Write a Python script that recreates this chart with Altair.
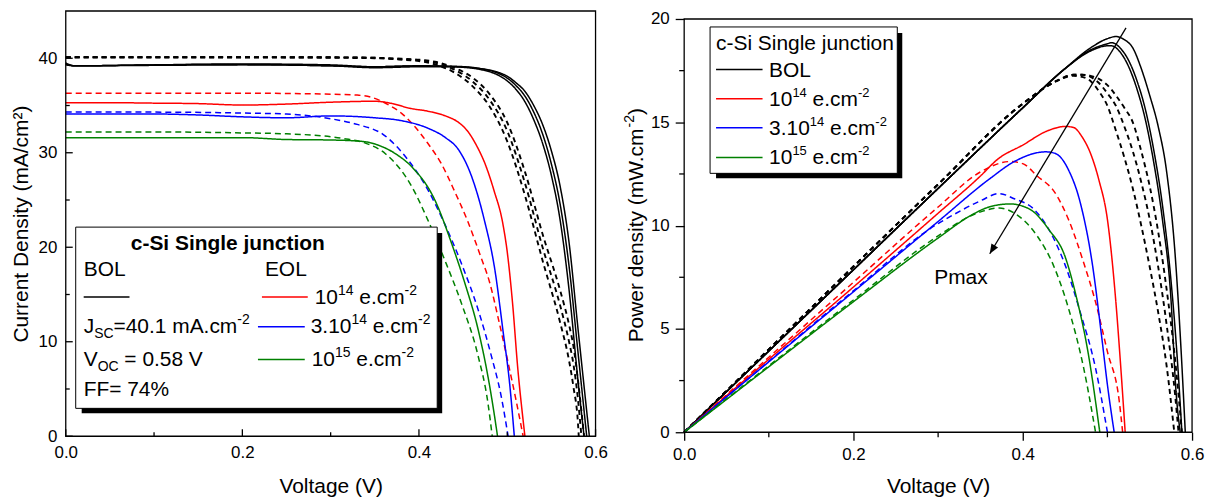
import altair as alt
import pandas as pd

FONT = "Liberation Sans"

# ---------------- Left panel: J-V curves (V in volts, J in mA/cm2) ----------------
jv_bol_a_v = [0, 0.01, 0.1, 0.2, 0.3, 0.35, 0.4, 0.44, 0.47, 0.49, 0.50, 0.51, 0.52, 0.53, 0.54, 0.55, 0.56, 0.57, 0.58, 0.587]
jv_bol_a_j = [39.5, 39.2, 39.3, 39.4, 39.3, 39.1, 39.2, 39.1, 38.8, 38.2, 37.6, 36.7, 35.4, 33.5, 31.0, 27.6, 22.8, 15.5, 6.0, 0]
jv_bol_b_v = [0, 0.01, 0.1, 0.2, 0.3, 0.35, 0.4, 0.44, 0.47, 0.49, 0.50, 0.51, 0.52, 0.53, 0.54, 0.55, 0.56, 0.57, 0.58, 0.590]
jv_bol_b_j = [39.4, 39.2, 39.3, 39.35, 39.2, 39.1, 39.2, 39.15, 38.9, 38.4, 37.9, 37.1, 36.0, 34.3, 32.0, 28.8, 24.5, 18.0, 9.0, 0]
jv_bol_c_v = [0, 0.01, 0.1, 0.2, 0.3, 0.35, 0.4, 0.44, 0.47, 0.49, 0.50, 0.51, 0.52, 0.53, 0.54, 0.55, 0.56, 0.57, 0.58, 0.593]
jv_bol_c_j = [39.3, 39.2, 39.25, 39.3, 39.2, 39.0, 39.1, 39.1, 38.9, 38.5, 38.1, 37.4, 36.5, 35.0, 33.0, 30.2, 26.4, 20.5, 11.5, 0]

jv_bold_v = [0, 0.1, 0.2, 0.3, 0.35, 0.38, 0.40, 0.42, 0.44, 0.46, 0.48, 0.50, 0.52, 0.54, 0.56, 0.57, 0.575, 0.58, 0.584]
jv_bold1_j = [40.1, 40.1, 40.1, 40.1, 40.05, 39.9, 39.8, 39.5, 38.8, 37.6, 35.6, 32.3, 26.8, 20.0, 13.8, 10.0, 7.6, 4.0, 0]
jv_bold2_v = [0, 0.1, 0.2, 0.3, 0.35, 0.38, 0.40, 0.42, 0.44, 0.46, 0.48, 0.50, 0.52, 0.54, 0.56, 0.57, 0.575, 0.58, 0.581]
jv_bold2_j = [40.1, 40.1, 40.1, 40.05, 40.0, 39.85, 39.7, 39.3, 38.5, 37.1, 34.9, 31.2, 25.5, 18.6, 12.0, 8.0, 5.2, 1.5, 0]
jv_bold3_v = [0, 0.1, 0.2, 0.3, 0.35, 0.38, 0.40, 0.42, 0.44, 0.46, 0.48, 0.50, 0.52, 0.54, 0.56, 0.57, 0.575, 0.58, 0.587]
jv_bold3_j = [40.1, 40.1, 40.1, 40.1, 40.05, 39.95, 39.85, 39.6, 39.0, 38.0, 36.2, 33.2, 28.0, 21.4, 15.4, 11.8, 9.5, 6.0, 0]

jv_red_v = [0, 0.05, 0.1, 0.15, 0.2, 0.25, 0.3, 0.35, 0.37, 0.39, 0.41, 0.43, 0.445, 0.455, 0.465, 0.475, 0.485, 0.495, 0.50, 0.506, 0.512, 0.517, 0.52]
jv_red_j = [35.3, 35.3, 35.25, 35.2, 35.05, 35.15, 35.35, 35.45, 35.2, 34.7, 34.4, 33.9, 33.2, 32.3, 30.8, 28.8, 26.0, 22.5, 19.5, 14.1, 7.1, 2.5, 0]
jv_redd_v = [0, 0.1, 0.2, 0.3, 0.33, 0.345, 0.365, 0.38, 0.395, 0.41, 0.425, 0.44, 0.455, 0.47, 0.48, 0.49, 0.50, 0.51, 0.518]
jv_redd_j = [36.3, 36.3, 36.3, 36.2, 36.1, 35.9, 35.1, 34.2, 32.8, 31.0, 28.9, 26.0, 22.8, 19.0, 16.3, 12.4, 8.2, 3.8, 0]

jv_blue_v = [0, 0.1, 0.15, 0.2, 0.25, 0.3, 0.35, 0.38, 0.41, 0.43, 0.445, 0.46, 0.474, 0.486, 0.495, 0.503, 0.508]
jv_blue_j = [34.1, 34.1, 34.0, 33.8, 33.7, 33.9, 33.7, 33.4, 32.6, 31.6, 30.3, 27.4, 22.9, 17.6, 11.3, 5.3, 0]
jv_blued_v = [0, 0.1, 0.2, 0.25, 0.3, 0.33, 0.36, 0.388, 0.41, 0.429, 0.448, 0.467, 0.482, 0.493, 0.501]
jv_blued_j = [34.3, 34.3, 34.2, 34.1, 33.6, 33.0, 31.9, 29.2, 26.1, 22.5, 18.3, 13.4, 8.5, 4.3, 0]

jv_green_v = [0, 0.1, 0.2, 0.25, 0.3, 0.336, 0.354, 0.375, 0.392, 0.418, 0.437, 0.452, 0.467, 0.478, 0.485, 0.489]
jv_green_j = [31.6, 31.6, 31.6, 31.4, 31.35, 31.2, 30.8, 29.8, 28.5, 25.0, 20.4, 16.2, 11.3, 6.4, 2.5, 0]
jv_greend_v = [0, 0.1, 0.2, 0.25, 0.3, 0.315, 0.34, 0.362, 0.392, 0.41, 0.429, 0.448, 0.467, 0.478, 0.483]
jv_greend_j = [32.2, 32.2, 32.1, 32.0, 31.7, 31.5, 31.0, 29.9, 26.4, 22.9, 18.7, 14.1, 8.5, 3.6, 0]

# ---------------- Right panel: P-V curves (P in mW/cm2) ----------------
pv_bol_a_v = [0, 0.1, 0.2, 0.3, 0.4, 0.45, 0.48, 0.50, 0.51, 0.52, 0.53, 0.54, 0.55, 0.56, 0.57, 0.58, 0.587, 0.592]
pv_bol_a_p = [0, 3.93, 7.87, 11.8, 15.7, 17.6, 18.6, 19.05, 19.15, 19.0, 18.6, 17.6, 16.3, 14.8, 12.6, 8.6, 4.0, 0]
pv_bol_b_v = [0, 0.1, 0.2, 0.3, 0.4, 0.45, 0.48, 0.50, 0.505, 0.515, 0.525, 0.535, 0.545, 0.555, 0.565, 0.575, 0.583, 0.588]
pv_bol_b_p = [0, 3.93, 7.86, 11.8, 15.7, 17.6, 18.5, 18.8, 18.85, 18.6, 18.0, 17.0, 15.6, 13.6, 11.0, 7.4, 3.3, 0]
pv_bol_c_v = [0, 0.1, 0.2, 0.3, 0.4, 0.45, 0.48, 0.50, 0.505, 0.515, 0.525, 0.535, 0.545, 0.555, 0.565, 0.575, 0.581, 0.586]
pv_bol_c_p = [0, 3.93, 7.86, 11.8, 15.7, 17.6, 18.45, 18.7, 18.7, 18.4, 17.7, 16.6, 15.1, 13.0, 10.3, 6.5, 2.0, 0]

pv_bold1_v = [0, 0.1, 0.2, 0.3, 0.4, 0.44, 0.46, 0.47, 0.48, 0.49, 0.50, 0.51, 0.52, 0.53, 0.54, 0.55, 0.56, 0.57, 0.58, 0.584]
pv_bold1_p = [0, 4.01, 8.02, 12.0, 15.9, 17.0, 17.3, 17.3, 17.2, 16.9, 16.4, 15.8, 14.8, 13.6, 12.1, 10.3, 8.0, 5.2, 1.8, 0]
pv_bold2_v = [0, 0.1, 0.2, 0.3, 0.4, 0.44, 0.46, 0.47, 0.48, 0.49, 0.50, 0.51, 0.52, 0.53, 0.54, 0.55, 0.56, 0.57, 0.579]
pv_bold2_p = [0, 4.01, 8.02, 12.0, 15.9, 17.0, 17.25, 17.2, 17.0, 16.5, 15.8, 14.6, 13.3, 11.8, 10.0, 8.0, 5.8, 3.2, 0]
pv_bold3_v = [0, 0.1, 0.2, 0.3, 0.4, 0.44, 0.46, 0.47, 0.48, 0.49, 0.50, 0.51, 0.52, 0.53, 0.54, 0.55, 0.56, 0.57, 0.58, 0.588]
pv_bold3_p = [0, 4.01, 8.02, 12.0, 15.9, 17.0, 17.3, 17.3, 17.25, 17.1, 16.8, 16.3, 15.7, 15.0, 13.6, 11.9, 9.7, 6.9, 3.5, 0]

pv_red_v = [0, 0.1, 0.2, 0.3, 0.35, 0.37, 0.40, 0.43, 0.45, 0.46, 0.47, 0.48, 0.49, 0.50, 0.51, 0.515, 0.521]
pv_red_p = [0, 3.53, 7.03, 10.6, 12.4, 13.2, 13.9, 14.6, 14.8, 14.75, 14.3, 13.5, 12.2, 10.3, 6.3, 3.6, 0]
pv_redd_v = [0, 0.1, 0.2, 0.3, 0.35, 0.385, 0.40, 0.417, 0.438, 0.454, 0.472, 0.486, 0.50, 0.514, 0.518]
pv_redd_p = [0, 3.63, 7.26, 10.9, 12.6, 13.1, 13.0, 12.4, 11.6, 10.3, 8.2, 6.3, 3.9, 1.5, 0]

pv_blue_v = [0, 0.1, 0.2, 0.3, 0.362, 0.39, 0.427, 0.438, 0.454, 0.468, 0.482, 0.493, 0.50, 0.508]
pv_blue_p = [0, 3.41, 6.8, 10.2, 12.3, 13.1, 13.57, 13.5, 12.7, 11.1, 8.2, 4.7, 2.3, 0]
pv_blued_v = [0, 0.1, 0.2, 0.3, 0.317, 0.35, 0.372, 0.39, 0.413, 0.431, 0.45, 0.468, 0.486, 0.50]
pv_blued_p = [0, 3.43, 6.85, 10.1, 10.5, 11.2, 11.55, 11.3, 10.8, 9.8, 8.1, 5.8, 3.1, 0]

pv_green_v = [0, 0.1, 0.2, 0.3, 0.339, 0.36, 0.385, 0.408, 0.431, 0.45, 0.463, 0.477, 0.491]
pv_green_p = [0, 3.17, 6.32, 9.4, 10.5, 10.9, 11.05, 10.8, 9.8, 8.5, 6.6, 3.9, 0]
pv_greend_v = [0, 0.1, 0.2, 0.3, 0.34, 0.372, 0.394, 0.417, 0.436, 0.454, 0.472, 0.486]
pv_greend_p = [0, 3.22, 6.4, 9.5, 10.5, 10.85, 10.5, 9.5, 8.1, 6.0, 3.1, 0]

# Pmax arrow (voltage, power) and label
arrow_v = [0.522, 0.361]
arrow_p = [19.57, 8.64]
pmax_label_v = [0.327]
pmax_label_p = [7.44]

# axis ticks
x_major = [0, 0.2, 0.4, 0.6]
x_minor = [0.1, 0.3, 0.5]
jl_major = [0, 10, 20, 30, 40]
jl_minor = [5, 15, 25, 35]
pr_major = [0, 5, 10, 15, 20]
pr_minor = [2.5, 7.5, 12.5, 17.5]

RED, BLUE, GREEN, BLACK = "#FF0000", "#0000FF", "#008000", "#000000"

left_series = [
    ("bol_a", jv_bol_a_v, jv_bol_a_j, BLACK, "s"),
    ("bol_b", jv_bol_b_v, jv_bol_b_j, BLACK, "s"),
    ("bol_c", jv_bol_c_v, jv_bol_c_j, BLACK, "s"),
    ("bold1", jv_bold_v, jv_bold1_j, BLACK, "b"),
    ("bold2", jv_bold2_v, jv_bold2_j, BLACK, "b"),
    ("bold3", jv_bold3_v, jv_bold3_j, BLACK, "b"),
    ("redd", jv_redd_v, jv_redd_j, RED, "d"),
    ("red", jv_red_v, jv_red_j, RED, "s"),
    ("blued", jv_blued_v, jv_blued_j, BLUE, "d"),
    ("blue", jv_blue_v, jv_blue_j, BLUE, "s"),
    ("greend", jv_greend_v, jv_greend_j, GREEN, "d"),
    ("green", jv_green_v, jv_green_j, GREEN, "s"),
]
right_series = [
    ("bold1", pv_bold1_v, pv_bold1_p, BLACK, "b"),
    ("bold2", pv_bold2_v, pv_bold2_p, BLACK, "b"),
    ("bold3", pv_bold3_v, pv_bold3_p, BLACK, "b"),
    ("bol_a", pv_bol_a_v, pv_bol_a_p, BLACK, "s"),
    ("bol_b", pv_bol_b_v, pv_bol_b_p, BLACK, "s"),
    ("bol_c", pv_bol_c_v, pv_bol_c_p, BLACK, "s"),
    ("redd", pv_redd_v, pv_redd_p, RED, "d"),
    ("red", pv_red_v, pv_red_p, RED, "s"),
    ("blued", pv_blued_v, pv_blued_p, BLUE, "d"),
    ("blue", pv_blue_v, pv_blue_p, BLUE, "s"),
    ("greend", pv_greend_v, pv_greend_p, GREEN, "d"),
    ("green", pv_green_v, pv_green_p, GREEN, "s"),
]


def long_df(series, ycol):
    rows = []
    for name, vs, ys, col, dash in series:
        for i, (v, y) in enumerate(zip(vs, ys)):
            rows.append({"name": name, "i": i, "V": v, ycol: y, "color": col,
                         "dash": dash, "sw": 1.9 if dash == "b" else 1.5})
    return pd.DataFrame(rows)


dfL = long_df(left_series, "J")
dfR = long_df(right_series, "P")

# ---------- text helpers (Arial / Liberation Sans advance widths) ----------
W = {' ': 278, '.': 278, '=': 584, '%': 889, '-': 333, '(': 333, ')': 333,
     'A': 667, 'B': 667, 'C': 722, 'E': 667, 'F': 611, 'J': 500, 'L': 556, 'O': 778,
     'P': 667, 'S': 667, 'V': 667, 'W': 944, 'a': 556, 'c': 500, 'd': 556, 'e': 556,
     'i': 222, 'm': 833, 'n': 556, 'o': 556, 'r': 333, 's': 500, 't': 278, 'w': 722, 'y': 500}


def tw(s, size):
    return sum(W.get(c, 556) for c in s) / 1000.0 * size


ONE = alt.Data(values=[{"k": 0}])


def txt(s, x, y, size=21, weight="normal", align="left", angle=0):
    return alt.Chart(ONE).mark_text(text=s, font=FONT, fontSize=size, fontWeight=weight,
                                    align=align, baseline="alphabetic", angle=angle,
                                    color="black").encode(x=alt.value(x), y=alt.value(y))


def rich(parts, x, y, base=21, small=14, sup=-9, sub=5):
    out = []
    cx = x
    for s, kind in parts:
        fs = base if kind == "n" else small
        dy = 0 if kind == "n" else (sup if kind == "sup" else sub)
        stripped = s.lstrip(" ")
        lead = tw(s[:len(s) - len(stripped)], fs)
        out.append(txt(stripped, cx + lead, y + dy, fs))
        cx += tw(s, fs)
    return out


def rich_vertical(parts, x, y, base=21, small=14, sup=-9):
    out = []
    cy = y
    for s, kind in parts:
        fs = base if kind == "n" else small
        dx = 0 if kind == "n" else sup
        out.append(txt(s, x + dx, cy, fs, angle=270))
        cy -= tw(s, fs)
    return out


def hline(x1, x2, y, color):
    return alt.Chart(ONE).mark_rule(color=color, strokeWidth=1.5).encode(
        x=alt.value(x1), x2=alt.value(x2), y=alt.value(y))


def box(x1, y1, x2, y2):
    shadow = alt.Chart(ONE).mark_rect(color="black").encode(
        x=alt.value(x1 + 6), x2=alt.value(x2 + 5), y=alt.value(y1 + 6), y2=alt.value(y2 + 5))
    face = alt.Chart(ONE).mark_rect(fill="white", stroke="black", strokeWidth=1).encode(
        x=alt.value(x1), x2=alt.value(x2), y=alt.value(y1), y2=alt.value(y2))
    return [shadow, face]


def frame(x1, y1, x2, y2):
    return alt.Chart(ONE).mark_rect(fill="transparent", stroke="black", strokeWidth=1.3).encode(
        x=alt.value(x1), x2=alt.value(x2), y=alt.value(y1), y2=alt.value(y2))


sup14 = [("10", "n"), ("14", "sup"), (" e.cm", "n"), ("-2", "sup")]
sup314 = [("3.10", "n"), ("14", "sup"), (" e.cm", "n"), ("-2", "sup")]
sup15 = [("10", "n"), ("15", "sup"), (" e.cm", "n"), ("-2", "sup")]

# ---------------- Left chart ----------------
WL, HL = 532, 427
XL = alt.X("V:Q", scale=alt.Scale(domain=[0, 0.6], nice=False, zero=False),
           axis=alt.Axis(values=x_major, format=".1f", ticks=False, labelPadding=8,
                         labelFlush=False, title="Voltage (V)", titlePadding=15))
YL = alt.Y("J:Q", scale=alt.Scale(domain=[0, 45], nice=False),
           axis=alt.Axis(values=jl_major, format="d", ticks=False, labelPadding=9,
                         title="Current Density (mA/cm²)", titlePadding=7))

dash_scale = alt.Scale(domain=["s", "d", "b"], range=[[1, 0], [6, 4], [5, 4]])
linesL = alt.Chart(dfL).mark_line(interpolate="monotone").encode(
    x=XL, y=YL, color=alt.Color("color:N", scale=None), detail="name:N", order="i:Q",
    strokeDash=alt.StrokeDash("dash:N", scale=dash_scale, legend=None),
    strokeWidth=alt.StrokeWidth("sw:Q", scale=None))

tickL = [
    alt.Chart(pd.DataFrame({"V": x_major})).mark_rule(color="black", strokeWidth=1.3).encode(
        x=XL, y=alt.value(HL), y2=alt.value(HL - 7)),
    alt.Chart(pd.DataFrame({"V": x_minor})).mark_rule(color="black", strokeWidth=1.3).encode(
        x=XL, y=alt.value(HL), y2=alt.value(HL - 4)),
    alt.Chart(pd.DataFrame({"J": jl_major})).mark_rule(color="black", strokeWidth=1.3).encode(
        y=YL, x=alt.value(0), x2=alt.value(7)),
    alt.Chart(pd.DataFrame({"J": jl_minor})).mark_rule(color="black", strokeWidth=1.3).encode(
        y=YL, x=alt.value(0), x2=alt.value(4)),
]

legL = box(10, 217, 373, 399)
legL += [txt("c-Si Single junction", 162.7, 240.3, 21, weight="bold", align="center"),
         txt("BOL", 18, 266.3), txt("EOL", 200, 266.3),
         hline(18, 64, 287.3, BLACK), hline(197, 243, 287.3, RED),
         hline(193, 240, 317, BLUE), hline(193, 240, 350, GREEN),
         txt("FF= 74%", 18, 386.3)]
legL += rich(sup14, 250, 294)
legL += rich(sup314, 246, 323)
legL += rich(sup15, 247, 356)
legL += rich([("J", "n"), ("SC", "sub"), ("=40.1 mA.cm", "n"), ("-2", "sup")], 18, 323)
legL += rich([("V", "n"), ("OC", "sub"), (" = 0.58 V", "n")], 18, 356.3)

left = alt.layer(linesL, *tickL, *legL, frame(0, 0, WL, HL)).properties(width=WL, height=HL)

# ---------------- Right chart ----------------
# plot origin sits 8 px above the frame top; scale extends above 20 to match
WR, HR = 510, 423
YTOP = 20.386
FT = HR - 20 * HR / YTOP  # pixel y of the P=20 frame line
XR = alt.X("V:Q", scale=alt.Scale(domain=[0, 0.6], nice=False, zero=False),
           axis=alt.Axis(values=x_major, format=".1f", ticks=True, tickSize=8, labelPadding=6,
                         labelFlush=False, title="Voltage (V)", titlePadding=14))
YR = alt.Y("P:Q", scale=alt.Scale(domain=[0, YTOP], nice=False),
           axis=alt.Axis(values=pr_major, format="d", ticks=True, tickSize=9, labelPadding=6,
                         title=None))

linesR = alt.Chart(dfR).mark_line(interpolate="monotone").encode(
    x=XR, y=YR, color=alt.Color("color:N", scale=None), detail="name:N", order="i:Q",
    strokeDash=alt.StrokeDash("dash:N", scale=dash_scale, legend=None),
    strokeWidth=alt.StrokeWidth("sw:Q", scale=None))

tickR = [
    alt.Chart(pd.DataFrame({"V": x_minor})).mark_rule(color="black", strokeWidth=1.3).encode(
        x=XR, y=alt.value(HR), y2=alt.value(HR + 5)),
    alt.Chart(pd.DataFrame({"P": pr_minor})).mark_rule(color="black", strokeWidth=1.3).encode(
        y=YR, x=alt.value(0), x2=alt.value(-5)),
]

arrow_df = pd.DataFrame({"V": [arrow_v[0]], "P": [arrow_p[0]],
                         "V2": [arrow_v[1]], "P2": [arrow_p[1]]})
arrow_line = alt.Chart(arrow_df).mark_rule(color="black", strokeWidth=1.3).encode(
    x=XR, y=YR, x2="V2:Q", y2="P2:Q")
head_df = pd.DataFrame({"V": [arrow_v[1]], "P": [arrow_p[1]]})
arrow_head = alt.Chart(head_df).mark_point(
    shape="M0,0 L-0.4,-1 L0.4,-1 Z", filled=True, color="black", size=380, angle=31,
    opacity=1).encode(x=XR, y=YR)
pmax = alt.Chart(pd.DataFrame({"V": pmax_label_v, "P": pmax_label_p})).mark_text(
    text="Pmax", font=FONT, fontSize=21, color="black", align="center",
    baseline="middle").encode(x=XR, y=YR)

o = FT  # offset of frame top inside the view
legR = box(26, 8 + o, 214, 155 + o)
legR += [txt("c-Si Single junction", 32, 31.3 + o),
         hline(32, 78.7, 50.7 + o, BLACK), txt("BOL", 85.3, 58 + o),
         hline(32, 78.7, 80 + o, RED), hline(32, 78.7, 109.3 + o, BLUE),
         hline(32, 78.7, 139 + o, GREEN)]
legR += rich(sup14, 85.3, 87.3 + o, small=13)
legR += rich(sup314, 85.3, 116.7 + o, small=13)
legR += rich(sup15, 85.3, 145.7 + o, small=13)

ytitleR = rich_vertical([("Power density (mW.cm", "n"), ("-2", "sup"), (")", "n")],
                        -41.5, 324.7 + o)

right = alt.layer(linesR, *tickR, arrow_line, arrow_head, pmax, *legR, *ytitleR,
                  frame(0, FT, WR, HR)).properties(width=WR, height=HR)

chart = alt.hconcat(left, right, spacing=14).properties(
    padding={"left": 1, "top": 0, "right": 0, "bottom": 0}
).configure_view(stroke="transparent").configure_axis(
    labelFont=FONT, labelFontSize=17, titleFont=FONT, titleFontSize=21,
    titleFontWeight="normal", labelColor="black", titleColor="black",
    tickColor="black", tickWidth=1.3, domain=False, grid=False)

chart.save("out.html", embed_options={"renderer": "svg", "actions": False})
